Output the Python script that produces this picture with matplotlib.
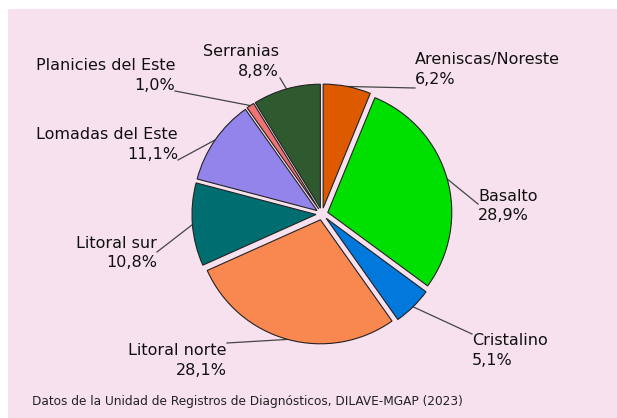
import matplotlib
matplotlib.use("Agg")
import matplotlib.pyplot as plt
from matplotlib.patches import Rectangle
import numpy as np

# ---- data ----
categories = ["Areniscas/Noreste", "Basalto", "Cristalino", "Litoral norte",
              "Litoral sur", "Lomadas del Este", "Planicies del Este", "Serranias"]
values = [6.2, 28.9, 5.1, 28.1, 10.8, 11.1, 1.0, 8.8]
pct_labels = ["6,2%", "28,9%", "5,1%", "28,1%", "10,8%", "11,1%", "1,0%", "8,8%"]
colors = ["#de5a00", "#00e000", "#0078dc", "#f88850", "#006e70", "#9384ec", "#f07272", "#2f5a30"]
footer = "Datos de la Unidad de Registros de Diagnósticos, DILAVE-MGAP (2023)"

# ---- layout (image pixel coords, y downward) ----
W, H = 617, 418
center_img = (322, 214)
radius = 124
explode_px = 6
# text anchor (x, y), ha, va ; leader end (x, y)
text_pos = [
    ((415, 87), "left", "bottom"),
    ((478, 206), "left", "center"),
    ((472, 333), "left", "top"),
    ((227, 343), "right", "top"),
    ((157, 253), "right", "center"),
    ((178, 162), "right", "bottom"),
    ((175, 93), "right", "bottom"),
    ((279, 79), "right", "bottom"),
]
leader_end = [(415, 88), (478, 204), (472, 334), (227, 343),
              (157, 252), (178, 160), (175, 91), (280, 78)]

fig = plt.figure(figsize=(W / 100, H / 100), dpi=100)
fig.patch.set_facecolor("white")
ax = fig.add_axes([0, 0, 1, 1])

# pink panel
ax.add_patch(Rectangle((8, 0), W - 8, H - 9, facecolor="#f8e1ee", edgecolor="none", zorder=0))

cx, cy = center_img[0], H - center_img[1]
wedges, _ = ax.pie(values, colors=colors, startangle=90, counterclock=False,
                   radius=radius, center=(cx, cy),
                   explode=[explode_px] * len(values),
                   wedgeprops=dict(edgecolor="#222222", linewidth=0.8))
for w in wedges:
    w.set_zorder(2)

fs = 11.5
for i, w in enumerate(wedges):
    mid = np.deg2rad((w.theta1 + w.theta2) / 2)
    wx, wy = w.center
    sx = wx + w.r * np.cos(mid)
    sy = wy + w.r * np.sin(mid)
    ex, ey = leader_end[i]
    ax.plot([sx, ex], [sy, H - ey], color="#444444", lw=0.9, zorder=1)
    (tx, ty), ha, va = text_pos[i]
    ax.text(tx, H - ty, f"{categories[i]}\n{pct_labels[i]}", ha=ha, va=va,
            fontsize=fs, color="#111111", linespacing=1.4, multialignment=ha, zorder=3)

ax.text(32, H - 401, footer, ha="left", va="center", fontsize=8.7, color="#222222", zorder=3)

ax.set_xlim(0, W)
ax.set_ylim(0, H)
ax.set_aspect("equal")
ax.axis("off")

fig.savefig("out.png", dpi=100, facecolor="white")
